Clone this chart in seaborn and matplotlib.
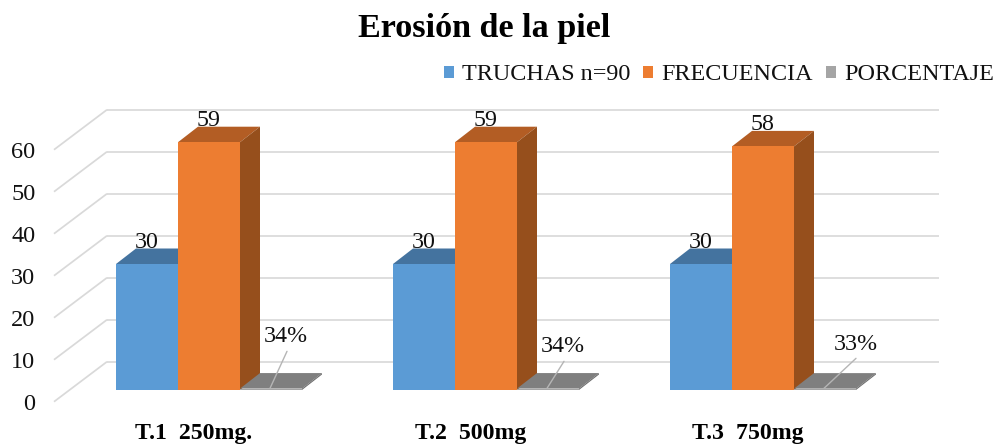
import matplotlib
matplotlib.use("Agg")
import matplotlib.pyplot as plt
from matplotlib.patches import Polygon
import pandas as pd
import seaborn as sns

# Chart values
grupos = ["T.1  250mg.", "T.2  500mg", "T.3  750mg"]
truchas = [30, 30, 30]
frecuencia = [59, 59, 58]
porcentaje = [0.34, 0.34, 0.33]
series = ["TRUCHAS n=90", "FRECUENCIA", "PORCENTAJE"]
marcas_y = [0, 10, 20, 30, 40, 50, 60]

# Colours: front, top and side face of each series
frente = ["#5B9BD5", "#ED7D31", "#A5A5A5"]
techo = ["#44739F", "#B35D24", "#7F7F7F"]
lado = ["#3D6A94", "#964F1C", "#6E6E6E"]

df = pd.DataFrame({
    "grupo": grupos * 3,
    "serie": [s for s in series for _ in grupos],
    "valor": truchas + frecuencia + porcentaje,
})

sns.set_theme(style="white")
plt.rcParams["font.family"] = ["Liberation Serif", "DejaVu Sans"]

W, H = 1005, 445
fig = plt.figure(figsize=(W / 100, H / 100), dpi=100, facecolor="white")

# Axes frame is the front edge of the 3D floor; one unit is 4.2 px tall
PX_Y = 4.2
PX_X = 277.0
izq, der, base_px = 54, 939, 401.7
ax = fig.add_axes([izq / W, (H - base_px) / H, (der - izq) / W, 72 * PX_Y / H])

sns.barplot(data=df, x="grupo", y="valor", hue="serie", order=grupos, hue_order=series,
            palette=frente, saturation=1, width=186 / PX_X, gap=0, legend=False, ax=ax)

# Depth offsets of the 3D look, in data units
x_centro = 194.0
ax.set_xlim((izq - x_centro) / PX_X, (der - x_centro) / PX_X)
ax.set_ylim(0, 72)
pared_x = 53 / (der - izq)
pared_y = 40 / PX_Y
barra_dx, barra_dy = 15 / PX_X, 11.7 / PX_Y
prof_x, prof_y = 20 / PX_X, 15.5 / PX_Y

# Back wall gridlines and their slanted continuation on the side wall
yt = ax.get_yaxis_transform()
for v in marcas_y:
    ax.plot([0, pared_x], [v, v + pared_y], transform=yt, color="#D9D9D9", lw=1.25,
            zorder=1, clip_on=False, solid_capstyle="butt")
    ax.plot([pared_x, 1], [v + pared_y, v + pared_y], transform=yt, color="#D9D9D9", lw=1.25,
            zorder=1, clip_on=False, solid_capstyle="butt")

# Extrude each bar: shift the front face, then add top and side faces
for s, cont in enumerate(ax.containers):
    for patch in cont:
        patch.set_x(patch.get_x() + barra_dx)
        patch.set_y(barra_dy)
        patch.set_linewidth(0)
        patch.set_zorder(3 + 2 * s + 1)
        x0, x1 = patch.get_x(), patch.get_x() + patch.get_width()
        y0, y1 = barra_dy, barra_dy + patch.get_height()
        ax.add_patch(Polygon([(x0, y1), (x1, y1), (x1 + prof_x, y1 + prof_y), (x0 + prof_x, y1 + prof_y)],
                             closed=True, fc=techo[s], ec="none", zorder=3 + 2 * s))
        ax.add_patch(Polygon([(x1, y0), (x1 + prof_x, y0 + prof_y), (x1 + prof_x, y1 + prof_y), (x1, y1)],
                             closed=True, fc=lado[s], ec="none", zorder=3 + 2 * s))

# Value labels above the two tall series
def centro(patch):
    return patch.get_x() + patch.get_width() / 2

for s in (0, 1):
    for patch in ax.containers[s]:
        ax.annotate(f"{patch.get_height():.0f}", (centro(patch), barra_dy + patch.get_height()),
                    xytext=(0, 21.5), textcoords="offset pixels", ha="center", va="center",
                    fontsize=17.3, color="#111111", zorder=10)

# Percentage labels sit away from their flat bars, joined by a leader line
desfase_texto = [(16, 52), (16, 42), (32, 44)]
desfase_guia = [(17, 37), (17, 27), (32, 30)]
for patch, txt, guia in zip(ax.containers[2], desfase_texto, desfase_guia):
    xy = (centro(patch) - 1 / PX_X, barra_dy + 0.4)
    ax.annotate("", xy=xy, xytext=guia, textcoords="offset pixels",
                arrowprops=dict(arrowstyle="-", color="#B5B5B5", lw=1.0, shrinkA=0, shrinkB=0), zorder=9)
    ax.annotate(f"{patch.get_height():.0%}", xy, xytext=txt, textcoords="offset pixels",
                ha="center", va="center", fontsize=17.3, color="#111111", zorder=10)

# Axis text
ax.set_yticks(marcas_y)
ax.set_xlabel("")
ax.set_ylabel("")
sns.despine(ax=ax, left=True, bottom=True)
ax.tick_params(axis="y", length=0, pad=13.5, labelsize=17.5, labelcolor="#111111")
ax.tick_params(axis="x", length=0, pad=15, labelsize=17.2, labelcolor="#000000")
for lab in ax.get_xticklabels():
    lab.set_fontweight("bold")

fig.text(484 / W, 1 - 28 / H, "Erosión de la piel", ha="center", va="center",
         fontsize=24.6, fontweight="bold", color="#000000")

ax.legend(handles=[c[0] for c in ax.containers], labels=series, ncol=3, frameon=False,
          loc="center right", bbox_to_anchor=(994 / W, 1 - 75 / H), bbox_transform=fig.transFigure,
          fontsize=17.4, handlelength=0.42, handleheight=0.42, handletextpad=0.33,
          columnspacing=0.54, borderaxespad=0, borderpad=0, labelcolor="#111111")

fig.savefig("out.png", dpi=100)
